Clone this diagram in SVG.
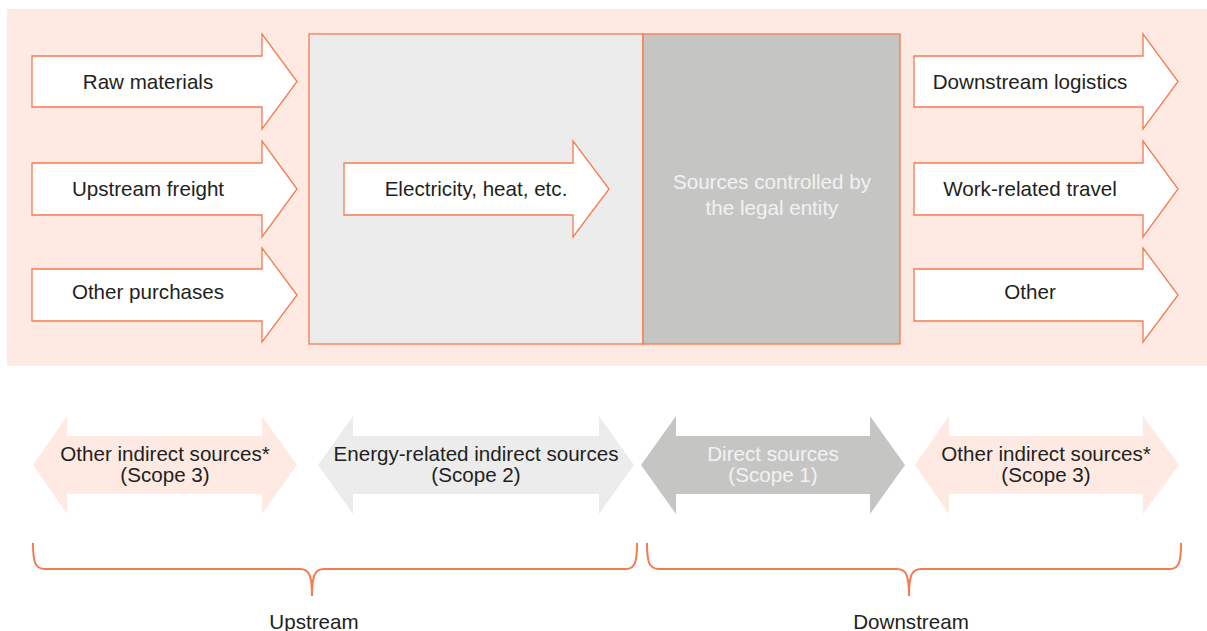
<svg xmlns="http://www.w3.org/2000/svg" width="1207" height="631" viewBox="0 0 1207 631">
<style>
.t{font-family:"Liberation Sans",Arial,sans-serif;font-size:20.6px;fill:#231f20;text-anchor:middle}
.w{fill:#f2f2f2}
.arr{fill:#ffffff;stroke:#f47b50;stroke-width:1.3;stroke-linejoin:miter}
.br{fill:none;stroke:#f47b50;stroke-width:2}
</style>
<rect x="7" y="9" width="1200" height="357" fill="#feeae3"/>
<g id="box-energy"><rect x="309" y="34" width="334" height="310" fill="#ececec" stroke="#f47b50" stroke-width="1.3"/></g>
<g id="box-direct"><rect x="643" y="34" width="257" height="310" fill="#c5c6c4" stroke="#f47b50" stroke-width="1.3"/>
<text class="t w" x="772" y="189">Sources controlled by</text>
<text class="t w" x="772" y="215">the legal entity</text></g>
<g id="raw-materials"><path class="arr" d="M32,56 H262 V34 L297,81.5 L262,129 V107 H32 Z"/><text class="t" x="148" y="89">Raw materials</text></g>
<g id="upstream-freight"><path class="arr" d="M32,163 H262 V141 L297,189 L262,237 V215 H32 Z"/><text class="t" x="148" y="196">Upstream freight</text></g>
<g id="other-purchases"><path class="arr" d="M32,269 H262 V248 L297,295 L262,342 V321 H32 Z"/><text class="t" x="148" y="299">Other purchases</text></g>
<g id="electricity"><path class="arr" d="M344,163 H573 V141 L609,189 L573,237 V215 H344 Z"/><text class="t" x="476" y="196">Electricity, heat, etc.</text></g>
<g id="downstream-logistics"><path class="arr" d="M914,56 H1143 V34 L1178,81.5 L1143,129 V107 H914 Z"/><text class="t" x="1030" y="89">Downstream logistics</text></g>
<g id="work-travel"><path class="arr" d="M914,163 H1143 V141 L1178,189 L1143,237 V215 H914 Z"/><text class="t" x="1030" y="196">Work-related travel</text></g>
<g id="other"><path class="arr" d="M914,269 H1143 V248 L1178,295 L1143,342 V321 H914 Z"/><text class="t" x="1030" y="299">Other</text></g>
<g id="scope3-up"><path fill="#feeae3" d="M33,465 L67,416 V436 H262 V416 L297,465 L262,514 V494 H67 V514 Z"/>
<text class="t" x="165" y="461">Other indirect sources*</text><text class="t" x="165" y="482">(Scope 3)</text></g>
<g id="scope2"><path fill="#ececec" d="M318,465 L353,416 V436 H599 V416 L634,465 L599,514 V494 H353 V514 Z"/>
<text class="t" x="476" y="461">Energy-related indirect sources</text><text class="t" x="476" y="482">(Scope 2)</text></g>
<g id="scope1"><path fill="#c5c6c4" d="M641,465 L676,416 V436 H870 V416 L905,465 L870,514 V494 H676 V514 Z"/>
<text class="t w" x="773" y="461">Direct sources</text><text class="t w" x="773" y="482">(Scope 1)</text></g>
<g id="scope3-down"><path fill="#feeae3" d="M915,465 L949,416 V436 H1143 V416 L1179,465 L1143,514 V494 H949 V514 Z"/>
<text class="t" x="1046" y="461">Other indirect sources*</text><text class="t" x="1046" y="482">(Scope 3)</text></g>
<g id="connectors">
<path class="br" d="M33,543 C33,562 35,569 45,569 L300,569 C309,569 312,575 312,596 C312,575 315,569 324,569 L626,569 C635,569 637,562 637,543"/>
<path class="br" d="M647,543 C647,562 649,569 659,569 L897,569 C906,569 909,575 909,596 C909,575 912,569 921,569 L1170,569 C1179,569 1181,562 1181,543"/>
</g>
<g id="upstream-label"><text class="t" x="314" y="629">Upstream</text></g>
<g id="downstream-label"><text class="t" x="911" y="629">Downstream</text></g>
</svg>
